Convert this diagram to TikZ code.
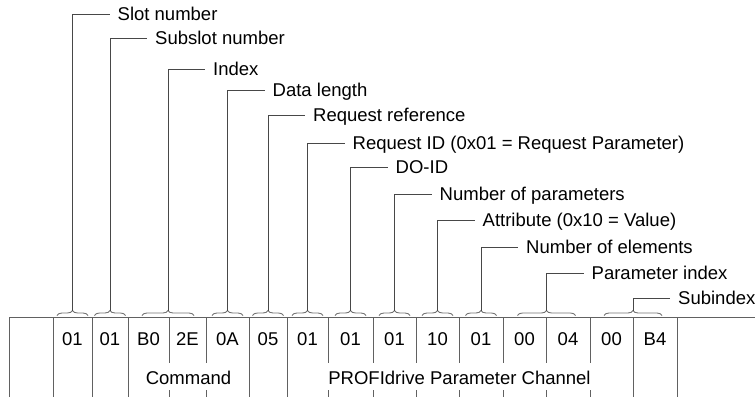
\documentclass[tikz,border=0pt]{standalone}
\usepackage{fontspec}
\setmainfont{Liberation Sans}
\usetikzlibrary{decorations.pathreplacing}
\begin{document}
\begin{tikzpicture}[x=1pt,y=-1pt,
  tline/.style={draw=black!62,line width=1pt},
  bracestyle/.style={draw=black!55,line width=0.9pt,decorate,decoration={brace,amplitude=5pt}},
  leader/.style={draw=black!72,line width=1pt},
  lab/.style={anchor=base west,inner sep=0pt,font=\fontsize{18.5}{22}\selectfont},
  val/.style={anchor=base,inner sep=0pt,font=\fontsize{18.5}{22}\selectfont}]
\useasboundingbox (0,0) rectangle (755,397);
% table
\draw[tline] (9,397) -- (9,317.5) -- (755,317.5);
\foreach \x in {53,92,128,249,287,633,677}
  \draw[tline] (\x,317.5) -- (\x,397);
\foreach \x in {169,206,328,373,416,459,503,546,590}{
  \draw[tline] (\x,317.5) -- (\x,362.5);
  \draw[tline] (\x,390) -- (\x,397);
}
% values
\foreach \c/\t [count=\i] in {72.5/01,110/01,148.5/B0,187.5/2E,227.5/0A,268/05,307.5/01,350.5/01,394.5/01,437.5/10,481/01,524.5/00,568/04,611.5/00,655/B4}
  \node[val] (v\i) at (\c,345.1) {\t};
% group labels
\node[val] (cmd) at (188.5,384.1) {Command};
\node[val] (pdc) at (459.5,384.1) {PROFIdrive Parameter Channel};
% braces, leaders and labels
\foreach \x/\hw/\ly/\t [count=\i] in {
  72.5/15.5/14/{Slot number},
  110/15.5/38/{Subslot number},
  168/26/69/{Index},
  227.5/15.5/90/{Data length},
  268/15.5/115/{Request reference},
  307.5/15.5/143/{Request ID (0x01 = Request Parameter)},
  350.5/15.5/167/{DO-ID},
  394.5/15.5/194/{Number of parameters},
  437.5/15.5/220/{Attribute (0x10 = Value)},
  481/15.5/247/{Number of elements},
  546.5/29/273/{Parameter index},
  633/29/298/{Subindex}}{
  \draw[bracestyle] (\x-\hw,315.5) -- (\x+\hw,315.5);
  \coordinate (t\i) at (\x,310.5);
  \node[lab] (l\i) at (\x+45,\ly+6.6) {\t};
  \draw[leader] (t\i) |- ([xshift=-8pt,yshift=6.6pt]l\i.base west);
}
\end{tikzpicture}
\end{document}
